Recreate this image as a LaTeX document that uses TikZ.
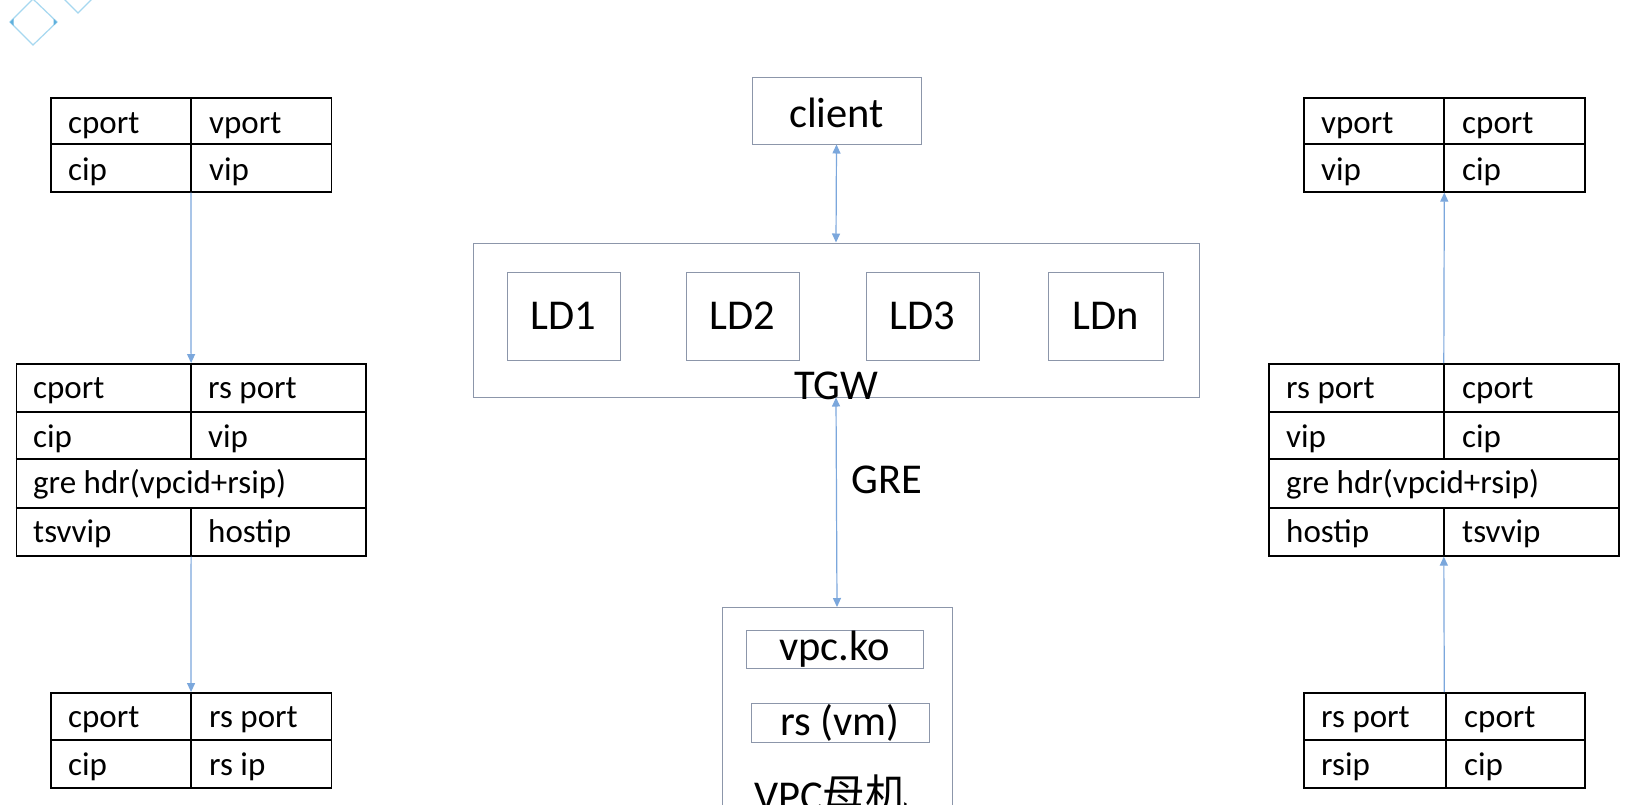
\documentclass[tikz,border=0pt]{standalone}
\usepackage{fontspec}
\setmainfont{Carlito}
\newfontfamily\cjk{Noto Sans CJK SC}
\usetikzlibrary{arrows.meta}
\definecolor{arrblue}{HTML}{7BA7DC}
\definecolor{boxgray}{HTML}{8C96AA}
\definecolor{deco}{HTML}{A6D8F0}
\definecolor{decodark}{HTML}{5FB0DD}
\begin{document}
\begin{tikzpicture}[x=1pt,y=-1pt,
 tbl/.style={draw=black,line width=1.6pt,inner sep=0pt,anchor=north west},
 tline/.style={draw=black,line width=1.6pt},
 ct/.style={anchor=base west,inner sep=0pt,font=\fontsize{33}{36}\selectfont},
 gbox/.style={draw=boxgray,line width=1pt,inner sep=0pt},
 big/.style={font=\fontsize{42.5}{48}\selectfont,inner sep=0pt},
 arr/.style={draw=arrblue,line width=1.2pt,-{Triangle[length=9pt,width=8pt]}},
 darr/.style={draw=arrblue,line width=1.2pt,{Triangle[length=9pt,width=8pt]}-{Triangle[length=9pt,width=8pt]}}]
\useasboundingbox (0,0) rectangle (1635,804);
\clip (0,0) rectangle (1635,804);
\fill[white] (0,0) rectangle (1635,804);
% decoration
\draw[deco,line width=1.2pt] (10,22) -- (33,-1) -- (57,22) -- (33,45) -- cycle;
\draw[deco,line width=1.2pt] (55,-10) -- (78,-33) -- (101,-10) -- (78,13) -- cycle;
\fill[decodark] (10,22) -- (13.5,18.5) -- (13.5,25.5) -- cycle;
\fill[decodark] (57,22) -- (53.5,18.5) -- (53.5,25.5) -- cycle;

% left top table
\node[tbl,minimum width=280.5pt,minimum height=94pt] (lt) at (50,97) {};
\draw[tline] (50,144) -- (330.5,144) (191,97) -- (191,191);
\node[ct] (lt11) at (68,133) {cport};
\node[ct] (lt12) at (209,133) {vport};
\node[ct] (lt21) at (68,180) {cip};
\node[ct] (lt22) at (209,180) {vip};

% left middle table
\node[tbl,minimum width=349.4pt,minimum height=192pt] (lm) at (15.6,363) {};
\draw[tline] (15.6,412) -- (365,412) (15.6,459) -- (365,459) (15.6,508) -- (365,508)
  (191,363) -- (191,459) (191,508) -- (191,555);
\node[ct] (lm11) at (33,398) {cport};
\node[ct] (lm12) at (208,398) {rs port};
\node[ct] (lm21) at (33,447) {cip};
\node[ct] (lm22) at (208,447) {vip};
\node[ct] (lm3) at (33,493) {gre hdr(vpcid+rsip)};
\node[ct] (lm41) at (33,542) {tsvvip};
\node[ct] (lm42) at (208,542) {hostip};

% left bottom table
\node[tbl,minimum width=280.5pt,minimum height=95pt] (lb) at (50,692) {};
\draw[tline] (50,740) -- (330.5,740) (191,692) -- (191,787);
\node[ct] (lb11) at (68,727) {cport};
\node[ct] (lb12) at (209,727) {rs port};
\node[ct] (lb21) at (68,775) {cip};
\node[ct] (lb22) at (209,775) {rs ip};

% right top table
\node[tbl,minimum width=281pt,minimum height=94pt] (rt) at (1303,97) {};
\draw[tline] (1303,144) -- (1584,144) (1444,97) -- (1444,191);
\node[ct] (rt11) at (1321,133) {vport};
\node[ct] (rt12) at (1462,133) {cport};
\node[ct] (rt21) at (1321,180) {vip};
\node[ct] (rt22) at (1462,180) {cip};

% right middle table
\node[tbl,minimum width=350pt,minimum height=192pt] (rm) at (1268,363) {};
\draw[tline] (1268,412) -- (1618,412) (1268,459) -- (1618,459) (1268,508) -- (1618,508)
  (1444,363) -- (1444,459) (1444,508) -- (1444,555);
\node[ct] (rm11) at (1286,398) {rs port};
\node[ct] (rm12) at (1462,398) {cport};
\node[ct] (rm21) at (1286,447) {vip};
\node[ct] (rm22) at (1462,447) {cip};
\node[ct] (rm3) at (1286,493) {gre hdr(vpcid+rsip)};
\node[ct] (rm41) at (1286,542) {hostip};
\node[ct] (rm42) at (1462,542) {tsvvip};

% right bottom table
\node[tbl,minimum width=281pt,minimum height=95pt] (rb) at (1303,692) {};
\draw[tline] (1303,740) -- (1584,740) (1446,692) -- (1446,787);
\node[ct] (rb11) at (1321,727) {rs port};
\node[ct] (rb12) at (1464,727) {cport};
\node[ct] (rb21) at (1321,775) {rsip};
\node[ct] (rb22) at (1464,775) {cip};

% center
\node[gbox,minimum width=169pt,minimum height=67pt] (client) at (836.5,110.5) {};
\node[big] (clientl) at (836.5,113) {client};
\node[gbox,minimum width=726pt,minimum height=154pt] (tgw) at (836,320) {};
\node[gbox,big,minimum width=113pt,minimum height=88pt] (ld1) at (563.5,316) {LD1};
\node[gbox,big,minimum width=113pt,minimum height=88pt] (ld2) at (742.5,316) {LD2};
\node[gbox,big,minimum width=113pt,minimum height=88pt] (ld3) at (922.5,316) {LD3};
\node[gbox,big,minimum width=115pt,minimum height=88pt] (ldn) at (1105.5,316) {LDn};
\node[big] (tgwl) at (836,386) {TGW};
\node[big] (gre) at (887,480) {GRE};
\node[gbox,anchor=north,minimum width=230pt,minimum height=240pt] (vpc) at (837,607) {};
\node[gbox,big,minimum width=177pt,minimum height=38pt] (vpcko) at (834.5,649) {vpc.ko};
\node[gbox,big,minimum width=178pt,minimum height=39pt] (rsvm) at (840,722.5) {rs (vm)};
\node[big,anchor=base] (host) at (831,810) {VPC{\cjk 母机}};

% connectors
\draw[darr] (client.south) -- (tgw.north);
\draw[darr] (tgw.south) -- (vpc.north);
\draw[arr] (lt.south) -- (lm.north);
\draw[arr] (lm.south) -- (lb.north);
\draw[arr] (rb.north) -- (rm.south);
\draw[arr] (rm.north) -- (rt.south);
\end{tikzpicture}
\end{document}
